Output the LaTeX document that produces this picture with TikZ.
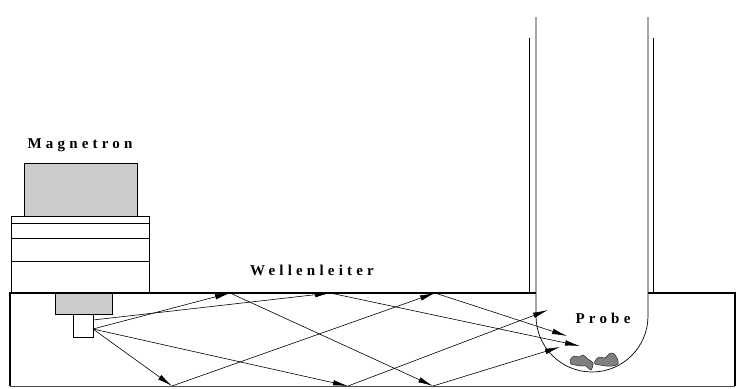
\documentclass[tikz,border=0pt]{standalone}
\usepackage{fontspec}
\setmainfont{Liberation Serif}
\usetikzlibrary{arrows.meta}

\begin{document}
\begin{tikzpicture}[x=1pt,y=-1pt,
    strahl/.style={-{Latex[length=15pt,width=5.5pt]}, line width=0.6pt},
    wand/.style={line width=1.7pt},
    beschriftung/.style={font=\fontsize{15}{17}\selectfont\bfseries\addfontfeatures{LetterSpace=28}},
    teilchen/.style={fill=black!50, draw=black!85, line width=0.5pt}]
    \useasboundingbox (0,0) rectangle (743,388);

    % Magnetron
    \draw[fill=black!20] (24,163) rectangle (137,216);
    \draw (11,216) rectangle (149,292);
    \draw (11,223) -- (149,223);
    \draw (11,238) -- (149,238);
    \draw (11,261) -- (149,261);
    \draw[fill=black!20] (55,292) rectangle (112,314);
    \node[draw, fill=white, inner sep=0pt, minimum width=20pt, minimum height=23pt] (antenne) at (83,325.5) {};

    % Wellenleiter
    \draw[wand] (536,293) -- (10,293) -- (10,386) (735,386) -- (735,293) -- (648,293);
    \draw[line width=1pt, black!70] (10,386) -- (735,386);

    % Mikrowellenraum
    \draw[wand] (529.5,38) -- (529.5,293);
    \draw[wand] (653.5,38) -- (653.5,293);

    % Probenrohr
    \draw[line width=0.7pt] (536,17) -- (536,316) arc[start angle=180, end angle=0, radius=56] -- (648,17);

    % Probe
    \draw[teilchen] plot[smooth cycle] coordinates {(570,360) (574,356) (579,357) (583,355) (588,359) (593,363) (591,370) (586,366) (581,366) (575,365) (571,364)};
    \draw[teilchen] plot[smooth cycle] coordinates {(595,361) (599,357) (605,358) (609,354) (613,353) (617,358) (618,364) (612,366) (606,366) (600,365) (595,364)};

    % Beschriftung
    \node[beschriftung] (magnetron) at (80,145) {Magnetron};
    \node[beschriftung] (leiter) at (312,270) {Wellenleiter};
    \node[beschriftung] (probe) at (603,318) {Probe};

    % Reflexionspunkte
    \coordinate (S1) at (93,320);
    \coordinate (S2) at (93,329);
    \coordinate (o1) at (230,293);
    \coordinate (o2) at (330,293);
    \coordinate (o3) at (435,293);
    \coordinate (u1) at (172,386);
    \coordinate (u2) at (348,386);
    \coordinate (u3) at (433,386);
    \coordinate (p1) at (580,346);
    \coordinate (p2) at (560,347);
    \coordinate (p3) at (548,310);
    \coordinate (p4) at (567,336);

    % Strahlen
    \draw[strahl] (S1) -- (o2);
    \draw[strahl] (o2) -- (p1);
    \draw[strahl] (S2) -- (o1);
    \draw[strahl] (o1) -- (u3);
    \draw[strahl] (u3) -- (p2);
    \draw[strahl] (S2) -- (u2);
    \draw[strahl] (u2) -- (p3);
    \draw[strahl] (S2) -- (u1);
    \draw[strahl] (u1) -- (o3);
    \draw[strahl] (o3) -- (p4);
\end{tikzpicture}
\end{document}
